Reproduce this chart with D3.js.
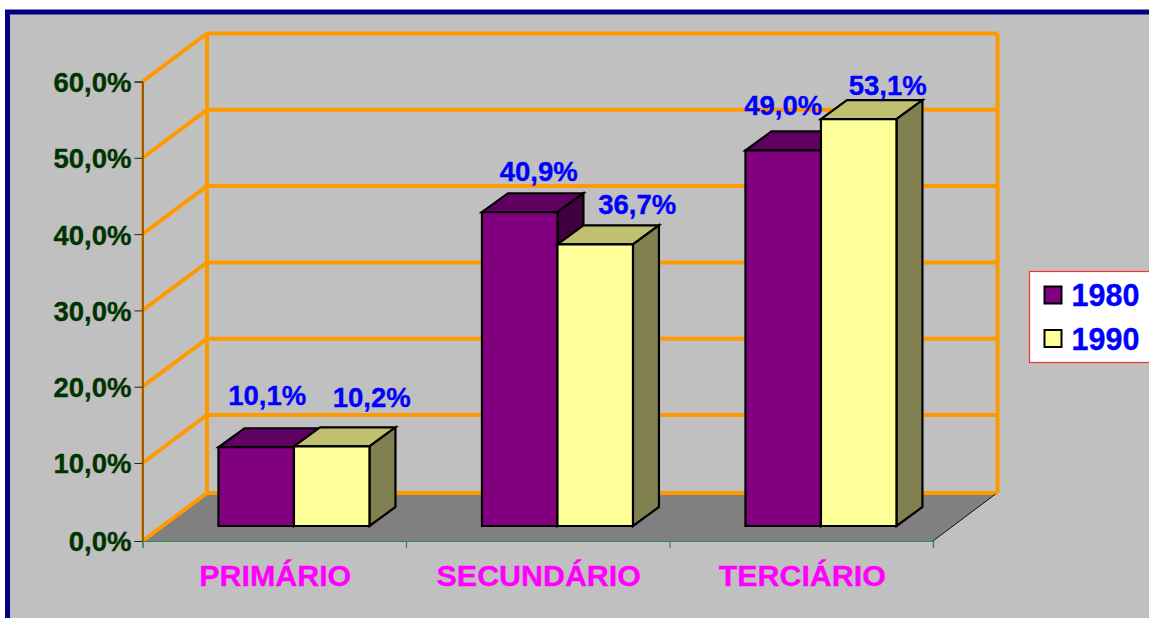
<!DOCTYPE html>
<html><head><meta charset="utf-8">
<script src="https://cdn.jsdelivr.net/npm/d3@7/dist/d3.min.js"></script>
<style>html,body{margin:0;padding:0;background:#fff;overflow:hidden}svg{display:block}text{font-family:"Liberation Sans",Arial,sans-serif;font-weight:bold}</style>
</head><body><svg id="c" width="1149" height="618"></svg>
<script>
const categories = ["PRIMÁRIO","SECUNDÁRIO","TERCIÁRIO"];
const seriesNames = ["1980","1990"];
const values1980 = [10.1,40.9,49.0];
const values1990 = [10.2,36.7,53.1];
const yTicks = [0,10,20,30,40,50,60];
const seriesValues = [values1980,values1990];
const fills = [{front:"#800080",top:"#600060",side:"#400040"},{front:"#FFFF99",top:"#C0C070",side:"#808050"}];
// label nudges relative to the bar's front-top centre
const labelNudge = [[[11,-42],[40,-39]],[[19,-31],[42,-30]],[[0,-35],[29,-24]]];

const svg = d3.select("#c");
const plot = {left:142.5,right:933,bottom:541,first:463,top:81.5,dx:64.5,dy:-48,barDx:19.7,barDy:-15,depthX:26,depthY:-19};
// the original axis has a slightly taller first interval
const y = d3.scaleLinear().domain([0,10,60]).range([plot.bottom,plot.first,plot.top]);
const x0 = d3.scaleBand().domain(categories).range([plot.left,plot.right]);
const x1 = d3.scaleBand().domain(seriesNames).range([0,x0.bandwidth()]).paddingInner(0).paddingOuter(0.745);
const orange = "#FF9900";
const boldText = sel => sel.attr("stroke-width",0.35).attr("paint-order","stroke");

svg.append("rect").attr("x",7.5).attr("y",12).attr("width",1160).attr("height",620).attr("fill","#C0C0C0").attr("stroke","#000080").attr("stroke-width",5);

// floor
svg.append("path").attr("fill","#808080").attr("d",d3.line()([
 [plot.left,plot.bottom],[plot.left+plot.dx,plot.bottom+plot.dy],[plot.right+plot.dx,plot.bottom+plot.dy],[plot.right,plot.bottom]]));

// walls
const grid = svg.append("g").attr("fill","none").attr("stroke",orange).attr("stroke-width",4);
yTicks.forEach(t=>{
  grid.append("path").attr("d",d3.line()([[plot.left,y(t)],[plot.left+plot.dx,y(t)+plot.dy],[plot.right+plot.dx,y(t)+plot.dy]]));
});
[plot.left+plot.dx,plot.right+plot.dx].forEach(v=>{
  grid.append("line").attr("x1",v).attr("x2",v).attr("y1",y(0)+plot.dy).attr("y2",y(60)+plot.dy);
});
svg.append("line").attr("x1",plot.left).attr("x2",plot.left).attr("y1",y(0)).attr("y2",y(60)).attr("stroke",orange).attr("stroke-width",3);
svg.append("line").attr("x1",plot.right).attr("y1",plot.bottom).attr("x2",plot.right+plot.dx-2).attr("y2",plot.bottom+plot.dy+1).attr("stroke","#111").attr("stroke-width",1);

// axes
const yAxis = d3.axisLeft(y).tickValues(yTicks).tickSize(8).tickPadding(3).tickFormat(d=>d3.format(".1f")(d).replace(".",",")+"%");
const gy = svg.append("g").attr("transform",`translate(${plot.left},0)`).call(yAxis);
gy.select(".domain").attr("stroke","#222").attr("stroke-width",1);
gy.selectAll(".tick line").attr("stroke","#222").attr("stroke-width",1);
gy.selectAll("text").attr("fill","#003300").attr("stroke","#003300").attr("font-size",27.5).attr("font-weight","bold").attr("font-family",'"Liberation Sans"').attr("dy","0.36em").call(boldText);

const xEdges = d3.scaleLinear().domain([0,categories.length]).range([plot.left,plot.right]);
const xAxis = d3.axisBottom(xEdges).tickValues(d3.range(categories.length+1)).tickSize(7).tickFormat("");
const gx = svg.append("g").attr("transform",`translate(0,${plot.bottom})`).call(xAxis);
gx.select(".domain").attr("stroke","#2E8B57").attr("stroke-width",1.2);
gx.selectAll(".tick line").attr("stroke","#2E8B57").attr("stroke-width",1.2);

svg.append("g").selectAll("text").data(categories).join("text")
  .attr("x",d=>x0(d)+x0.bandwidth()/2+1).attr("y",586).attr("text-anchor","middle")
  .attr("fill","#FF00FF").attr("stroke","#FF00FF").attr("font-size",30.4).text(d=>d).call(boldText);

// bars
const barsG = svg.append("g");
const labelsG = svg.append("g");
categories.forEach((c,ci)=>{
  seriesNames.forEach((s,si)=>{
    const v = seriesValues[si][ci];
    const L = x0(c)+x1(s)+plot.barDx, w = x1.bandwidth(), B = plot.bottom+plot.barDy, T = y(v)+plot.barDy;
    const g = barsG.append("g").attr("stroke","#000").attr("stroke-width",2.2).attr("stroke-linejoin","miter");
    const p = pts=>d3.line()(pts)+"Z";
    g.append("path").attr("fill",fills[si].top).attr("d",p([[L,T],[L+plot.depthX,T+plot.depthY],[L+w+plot.depthX,T+plot.depthY],[L+w,T]]));
    g.append("path").attr("fill",fills[si].side).attr("d",p([[L+w,T],[L+w+plot.depthX,T+plot.depthY],[L+w+plot.depthX,B+plot.depthY],[L+w,B]]));
    g.append("path").attr("fill",fills[si].front).attr("d",p([[L,T],[L+w,T],[L+w,B],[L,B]]));
    const n = labelNudge[ci][si];
    labelsG.append("text").attr("x",L+w/2+n[0]).attr("y",T+n[1]).attr("text-anchor","middle")
      .attr("fill","#0000FF").attr("stroke","#0000FF").attr("font-size",27.5).text(d3.format(".1f")(v).replace(".",",")+"%").call(boldText);
  });
});

// legend
const lg = svg.append("g");
lg.append("rect").attr("x",1029.5).attr("y",271.5).attr("width",130).attr("height",91).attr("fill","#fff").attr("stroke","#FF3030").attr("stroke-width",1.2);
const legY = d3.scalePoint().domain(seriesNames).range([295.5,339]);
seriesNames.forEach((s,i)=>{
  lg.append("rect").attr("x",1044.5).attr("y",legY(s)-9).attr("width",17).attr("height",17).attr("fill",fills[i].front).attr("stroke","#000").attr("stroke-width",2);
  lg.append("text").attr("x",1071.5).attr("y",legY(s)+10.5).attr("fill","#0000FF").attr("stroke","#0000FF").attr("font-size",30.5).text(s).call(boldText);
});
</script></body></html>
